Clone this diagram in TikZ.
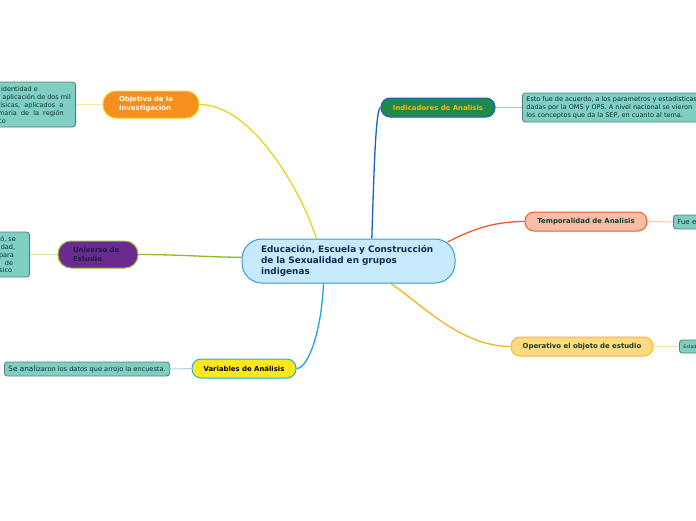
\documentclass[tikz,border=0pt]{standalone}
\usepackage{fontspec}
\setmainfont{DejaVu Sans}
\usetikzlibrary{calc,backgrounds}
\definecolor{cenf}{HTML}{C6EAFC}
\definecolor{cenb}{HTML}{3D98D6}
\definecolor{centx}{HTML}{0F2B58}
\definecolor{objf}{HTML}{F78F1E}
\definecolor{objb}{HTML}{F2D21A}
\definecolor{univf}{HTML}{6B2B8E}
\definecolor{univb}{HTML}{95C22A}
\definecolor{univtx}{HTML}{1C1C46}
\definecolor{varf}{HTML}{FFE81A}
\definecolor{varb}{HTML}{2EA9E0}
\definecolor{indf}{HTML}{1E8B4A}
\definecolor{indb}{HTML}{1A5EC5}
\definecolor{indtx}{HTML}{F3B61C}
\definecolor{tempf}{HTML}{F9BDA6}
\definecolor{tempb}{HTML}{F05E2D}
\definecolor{operf}{HTML}{FFDA80}
\definecolor{operb}{HTML}{F8B930}
\definecolor{darkgr}{HTML}{163D2C}
\definecolor{leaff}{HTML}{7FCFC4}
\definecolor{leafb}{HTML}{5A7D79}
\definecolor{leaftx}{HTML}{13302C}
\definecolor{lobj}{HTML}{F6E9A0}
\definecolor{luniv}{HTML}{CFE5A2}
\definecolor{lvar}{HTML}{A8D8F0}
\definecolor{lind}{HTML}{A3BCE8}
\definecolor{ltemp}{HTML}{F8C2B2}
\definecolor{loper}{HTML}{FBE2A2}
\definecolor{kobj}{HTML}{EAD31E}
\definecolor{kuniv}{HTML}{8BBD1F}
\definecolor{kvar}{HTML}{20A4E0}
\definecolor{kind}{HTML}{1A5FCC}
\definecolor{ktemp}{HTML}{F05A28}
\definecolor{koper}{HTML}{F9B21B}
\tikzset{
  pill/.style={draw, line width=1pt, inner sep=0pt, font=\bfseries\fontsize{6.9}{9}\selectfont},
  leafbox/.style={draw=leafb, fill=leaff, line width=0.8pt, rounded corners=3pt, text=leaftx, inner xsep=4pt, inner ysep=2pt, font=\fontsize{6.5}{8}\selectfont},
  leaftext/.style={text=leaftx, inner sep=0pt, font=\fontsize{6.5}{8}\selectfont},
  conn/.style={line width=1.3pt},
  twig/.style={line width=1pt}
}
\begin{document}
\begin{tikzpicture}[x=1pt,y=-1pt]
\useasboundingbox (0,0) rectangle (696,520);
\clip (0,0) rectangle (696,520);
\begin{scope}[on background layer]
\fill[white] (0,0) rectangle (696,520);
\end{scope}

% main nodes
\node[pill, fill=cenf, draw=cenb, minimum width=213pt, minimum height=44pt, rounded corners=20pt,
      text width=175pt, align=left, text=centx, font=\bfseries\fontsize{8.9}{11}\selectfont] (c) at (348.5,261)
  {Educación, Escuela y Construcción\\de la Sexualidad en grupos\\indigenas};
\node[pill, fill=objf, draw=objb, minimum width=96pt, minimum height=27pt, rounded corners=13pt,
      text width=64pt, align=left, text=white] (obj) at (151,104.5) {Objetivo de la\\Investigación};
\node[pill, fill=univf, draw=univb, minimum width=80pt, minimum height=27pt, rounded corners=13pt,
      text width=50pt, align=left, text=univtx] (univ) at (98,254.5) {Universo de\\Estudio};
\node[pill, fill=varf, draw=varb, minimum width=104pt, minimum height=19pt, rounded corners=9pt,
      text=black] (var) at (244,368.5) {Variables de Análisis};
\node[pill, fill=indf, draw=indb, minimum width=114pt, minimum height=19pt, rounded corners=9pt,
      text=indtx] (ind) at (438,107.5) {Indicadores de Analisis};
\node[pill, fill=tempf, draw=tempb, minimum width=122pt, minimum height=19pt, rounded corners=9pt,
      text=darkgr] (temp) at (586,221.5) {Temporalidad de Analisis};
\node[pill, fill=operf, draw=operb, minimum width=142pt, minimum height=19pt, rounded corners=9pt,
      text=darkgr] (oper) at (582,346.5) {Operativo el objeto de estudio};

% leaves
\node[leafbox, minimum width=100pt, minimum height=45pt, anchor=east] (objleaf) at (76,104.5) {};
\node[leaftext, anchor=base east] (ol1) at (38,91) {Conocer la identidad e};
\node[leaftext, anchor=base east] (ol2) at (71,99) {sexualidad mediante la aplicación de dos mil};
\node[leaftext, anchor=base east] (ol3) at (63.5,107) {encuestas físicas,\ \ aplicados\ \ a};
\node[leaftext, anchor=base east] (ol4) at (64,115) {alumnos de primaria\ \ de\ \ la\ \ región};
\node[leaftext, anchor=base east] (ol5) at (6,123) {Totonaco};

\node[leafbox, minimum width=60pt, minimum height=45pt, anchor=east] (univleaf) at (30,254.5) {};
\node[leaftext, anchor=base east] (ul1) at (16,241) {Se eligió, se};
\node[leaftext, anchor=base east] (ul2) at (15.3,249) {sexualidad,};
\node[leaftext, anchor=base east] (ul3) at (14,257) {para};
\node[leaftext, anchor=base east] (ul4) at (13.3,265) {de};
\node[leaftext, anchor=base east] (ul5) at (12.3,272) {básico};

\node[leafbox, minimum height=14pt, anchor=west, inner ysep=1pt, font=\fontsize{6.6}{8}\selectfont] (varleaf) at (4,369)
  {{\fontsize{7.3}{8}\selectfont Se anali}zaron los datos que arrojo la encuesta.};

\node[leafbox, minimum height=29pt, anchor=west, align=left] (indleaf) at (522,107.5)
  {Esto fue de acuerdo, a los parametros y estadisticas\\dadas por la OMS y OPS. A nivel nacional se vieron\\los conceptos que da la SEP, en cuanto al tema.};

\node[leafbox, minimum height=14pt, anchor=west, inner ysep=1pt, font=\fontsize{7}{8}\selectfont] (templeaf) at (673,222) {Fue en el ciclo};
\node[leafbox, minimum height=13pt, anchor=west, inner ysep=1pt, font=\fontsize{4.6}{6}\selectfont] (operleaf) at (679,346.5) {Estado de Oaxaca};

% connectors
\begin{scope}[on background layer]
\draw[conn, kobj] (c.145) .. controls +(-12,-40) and +(55,0) .. (obj.east);
\draw[conn, kuniv] (c.178) .. controls +(-30,0) and +(40,0) .. (univ.east);
\draw[conn, kvar] (c.222) .. controls +(-2,47) and +(12,0) .. (var.east);
\draw[conn, kind] (c.44) .. controls +(2,-60) and +(-5,0) .. (ind.west);
\draw[conn, ktemp] ($(c.east)+(-8,-19)$) .. controls +(20,-10) and +(-35,0) .. (temp.west);
\draw[conn, koper] (c.-28) .. controls +(30,20) and +(-50,0) .. (oper.west);
\draw[twig, lobj] (obj.west) -- (objleaf.east);
\draw[twig, luniv] (univ.west) -- (univleaf.east);
\draw[twig, lvar] (var.west) -- (varleaf.east);
\draw[twig, lind] (ind.east) -- (indleaf.west);
\draw[twig, ltemp] (temp.east) -- (templeaf.west);
\draw[twig, loper] (oper.east) -- (operleaf.west);
\end{scope}
\end{tikzpicture}
\end{document}
